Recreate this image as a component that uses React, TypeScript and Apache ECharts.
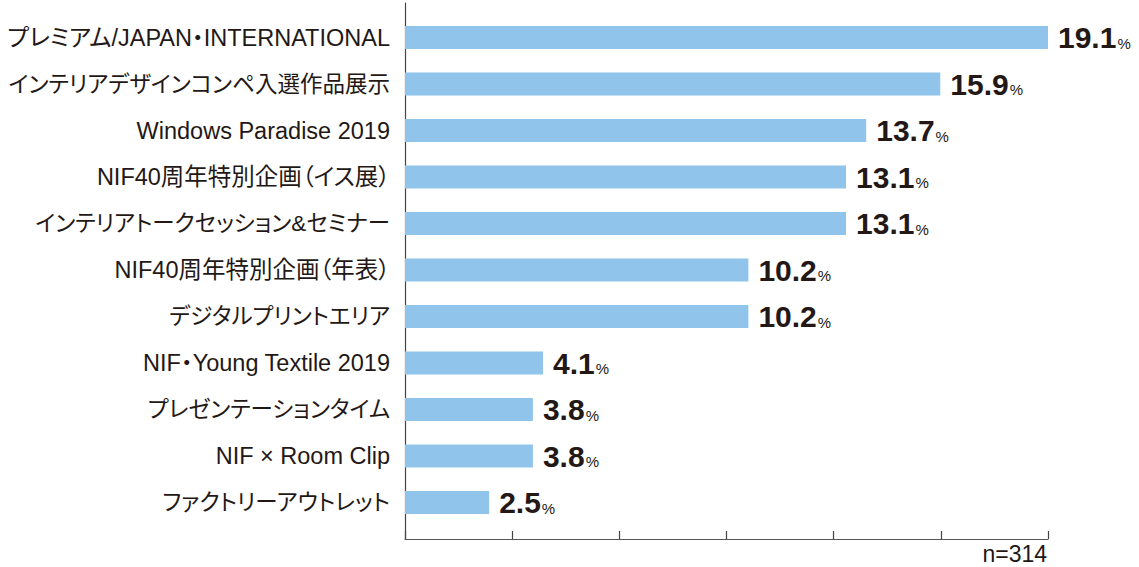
import React, { useEffect, useRef } from "react";
import * as echarts from "echarts";

const categories = [
  "プレミアム/JAPAN・INTERNATIONAL",
  "インテリアデザインコンペ入選作品展示",
  "Windows Paradise 2019",
  "NIF40周年特別企画（イス展）",
  "インテリアトークセッション&セミナー",
  "NIF40周年特別企画（年表）",
  "デジタルプリントエリア",
  "NIF・Young Textile 2019",
  "プレゼンテーションタイム",
  "NIF × Room Clip",
  "ファクトリーアウトレット",
];
const values = [19.1, 15.9, 13.7, 13.1, 13.1, 10.2, 10.2, 4.1, 3.8, 3.8, 2.5];
const axisMax = 19.1;
const tickCount = 6;
const sampleNote = "n=314";

const TEXT = "#231815";
const FONT = '"Liberation Sans", "Noto Sans CJK JP", sans-serif';

export default function App() {
  const ref = useRef<HTMLDivElement>(null);
  useEffect(() => {
    if (!ref.current) return;
    const chart = echarts.init(ref.current, null, { renderer: "svg" });
    chart.setOption({
      animation: false,
      backgroundColor: "#ffffff",
      grid: [
        { left: 405, top: 14.25, width: 643, height: 511.5, containLabel: false, outerBoundsMode: "none" },
        { left: 405, top: 3, width: 643, height: 536, containLabel: false, outerBoundsMode: "none" },
      ],
      xAxis: [
        { type: "value", gridIndex: 0, min: 0, max: axisMax, show: false },
        {
          type: "value",
          gridIndex: 1,
          min: 0,
          max: axisMax,
          interval: axisMax / tickCount,
          axisLine: { show: true, lineStyle: { color: "#555", width: 1.2 } },
          axisTick: { show: true, inside: true, length: 8, lineStyle: { color: "#444", width: 1.2 } },
          axisLabel: { show: false },
          splitLine: { show: false },
        },
      ],
      yAxis: [
        {
          type: "category",
          gridIndex: 0,
          inverse: true,
          data: categories,
          axisLine: { show: false },
          axisTick: { show: false },
          axisLabel: {
            interval: 0,
            margin: 15,
            fontSize: 24,
            color: TEXT,
            fontFamily: FONT,
            formatter: (v: string) => (/[A-Za-z0-9]/.test(v) ? `{m|${v}}` : `{k|${v}}`),
            rich: {
              m: { fontSize: 23.5, color: TEXT, fontFamily: FONT, align: "right" },
              k: { fontSize: 22.5, color: TEXT, fontFamily: FONT, align: "right" },
            },
          },
        },
        {
          type: "value",
          gridIndex: 1,
          min: 0,
          max: 1,
          axisLine: { show: true, lineStyle: { color: "#444", width: 1.2 } },
          axisTick: { show: false },
          axisLabel: { show: false },
          splitLine: { show: false },
        },
      ],
      series: [
        {
          type: "bar",
          xAxisIndex: 0,
          yAxisIndex: 0,
          data: values,
          barWidth: 23,
          itemStyle: { color: "#90c4eb" },
          label: {
            show: true,
            position: "right",
            distance: 10,
            formatter: (p: any) => `{v|${Number(p.value).toFixed(1)}}{p|%}`,
            rich: {
              v: { fontSize: 30, fontWeight: "bold", color: TEXT, fontFamily: FONT },
              p: { fontSize: 15, color: TEXT, fontFamily: FONT, verticalAlign: "bottom", padding: [0, 0, 2, 1] },
            },
          },
        },
      ],
      graphic: [
        {
          type: "text",
          right: 92,
          top: 542,
          style: { text: sampleNote, fontSize: 23, lineHeight: 23, fill: TEXT, fontFamily: FONT },
        },
      ],
    });
    return () => chart.dispose();
  }, []);
  return (
    <div
      ref={ref}
      style={{
        position: "absolute",
        left: 0,
        top: 0,
        width: 1139,
        height: 567,
        fontFeatureSettings: '"palt"',
      }}
    />
  );
}
